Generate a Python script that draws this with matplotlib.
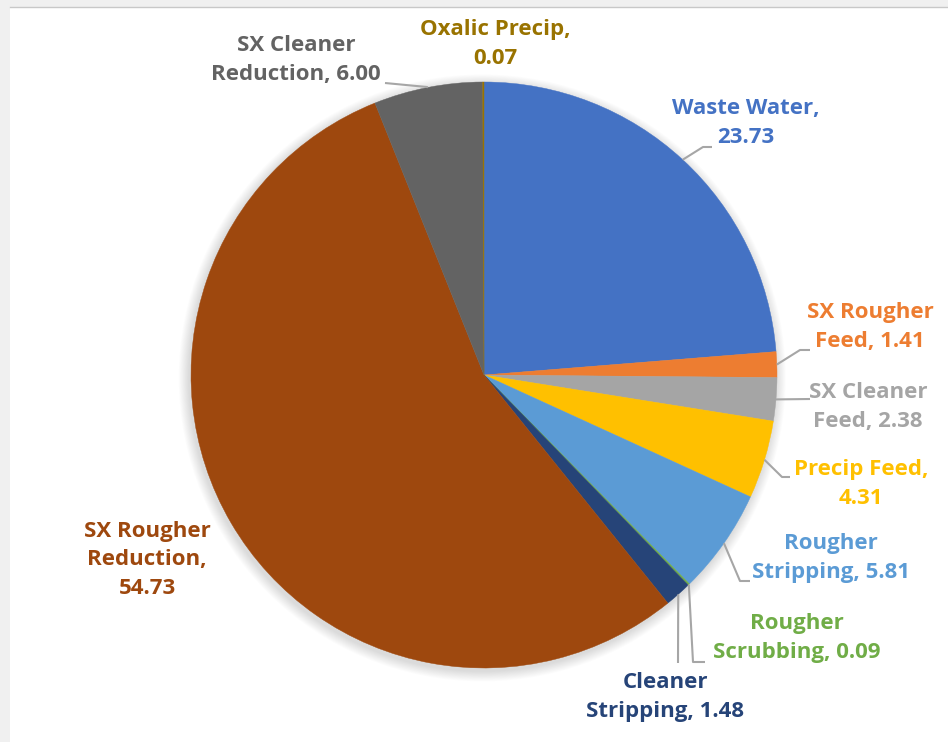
import numpy as np
import matplotlib
matplotlib.use('Agg')
import matplotlib.pyplot as plt
from matplotlib.patches import Circle, Rectangle

# 各工段占比（%）
categories = ['Waste Water', 'SX Rougher Feed', 'SX Cleaner Feed', 'Precip Feed',
              'Rougher Stripping', 'Rougher Scrubbing', 'Cleaner Stripping',
              'SX Rougher Reduction', 'SX Cleaner Reduction', 'Oxalic Precip']
values = [23.73, 1.41, 2.38, 4.31, 5.81, 0.09, 1.48, 54.73, 6.00, 0.07]
# 标签换行方式
label_lines = [['Waste Water,', '{v}'], ['SX Rougher', 'Feed, {v}'], ['SX Cleaner', 'Feed, {v}'],
               ['Precip Feed,', '{v}'], ['Rougher', 'Stripping, {v}'], ['Rougher', 'Scrubbing, {v}'],
               ['Cleaner', 'Stripping, {v}'], ['SX Rougher', 'Reduction,', '{v}'],
               ['SX Cleaner', 'Reduction, {v}'], ['Oxalic Precip,', '{v}']]
colors = ['#4472C4', '#ED7D31', '#A5A5A5', '#FFC000', '#5B9BD5',
          '#70AD47', '#264478', '#9E480E', '#636363', '#997300']

W, H = 948, 742
CX, CY, R = 484, 375, 293


def px(x, y):
    # 像素坐标 -> 数据坐标（饼图圆心为原点，半径为1）
    return (x - CX) / R, (CY - y) / R


# 标签中心位置（像素）
label_pos = [(746, 123), (870, 327), (868, 407), (861, 484), (831, 558),
             (797, 638), (665, 697), (147, 560), (296, 60), (495, 44)]
# 引导线折点（像素），None 表示无引导线
leaders = [[(703, 147), (712, 147)], [(800, 350), (810, 350)], [(810, 399)],
           [(782, 477), (790, 477)], [(740, 581), (750, 581)], [(693, 662), (705, 662)],
           [(678, 663)], None, [(427, 87), (385, 83)], None]

fig = plt.figure(figsize=(W / 100, H / 100), dpi=100)
ax = fig.add_axes([0, 0, 1, 1])

# 边框背景
fig.patches.append(Rectangle((0, 0), 10 / W, 1, transform=fig.transFigure,
                             facecolor='#f0f0f0', edgecolor='none', zorder=0))
fig.patches.append(Rectangle((0, 1 - 7 / H), 1, 7 / H, transform=fig.transFigure,
                             facecolor='#f0f0f0', edgecolor='none', zorder=0))
fig.lines.append(plt.Line2D([10 / W, 1], [1 - 7 / H, 1 - 7 / H], transform=fig.transFigure,
                            color='#c8c8c8', lw=1))

# 阴影
for i in range(12):
    ax.add_patch(Circle((-0.006, -0.01), 1.0 + 0.003 * (12 - i), facecolor='#000000',
                        alpha=0.012, edgecolor='none', zorder=1))

wedges, _ = ax.pie(values, colors=colors, startangle=90, counterclock=False, radius=1,
                   wedgeprops=dict(linewidth=0.3))
for w in wedges:
    w.set_zorder(2)
    w.set_edgecolor(w.get_facecolor())

# pie() 会重设坐标范围，这里再设回来
x0, y1 = px(0, 0)
x1, y0 = px(W, H)
ax.set_xlim(x0, x1)
ax.set_ylim(y0, y1)
ax.set_aspect('equal')
ax.axis('off')

for i, (w, v) in enumerate(zip(wedges, values)):
    text = '\n'.join(s.format(v=f'{v:.2f}') for s in label_lines[i])
    lx, ly = px(*label_pos[i])
    ax.text(lx, ly, text, ha='center', va='center', color=colors[i], fontsize=16,
            fontweight='bold', family=['Open Sans', 'DejaVu Sans'], linespacing=1.45, zorder=4)
    if leaders[i] is None:
        continue
    ang = np.deg2rad((w.theta1 + w.theta2) / 2)
    pts = [(np.cos(ang), np.sin(ang))] + [px(*p) for p in leaders[i]]
    xs, ys = zip(*pts)
    ax.plot(xs, ys, color='#a6a6a6', lw=1.5, zorder=3, solid_capstyle='butt')

plt.savefig('out.png', dpi=100)
plt.close()
